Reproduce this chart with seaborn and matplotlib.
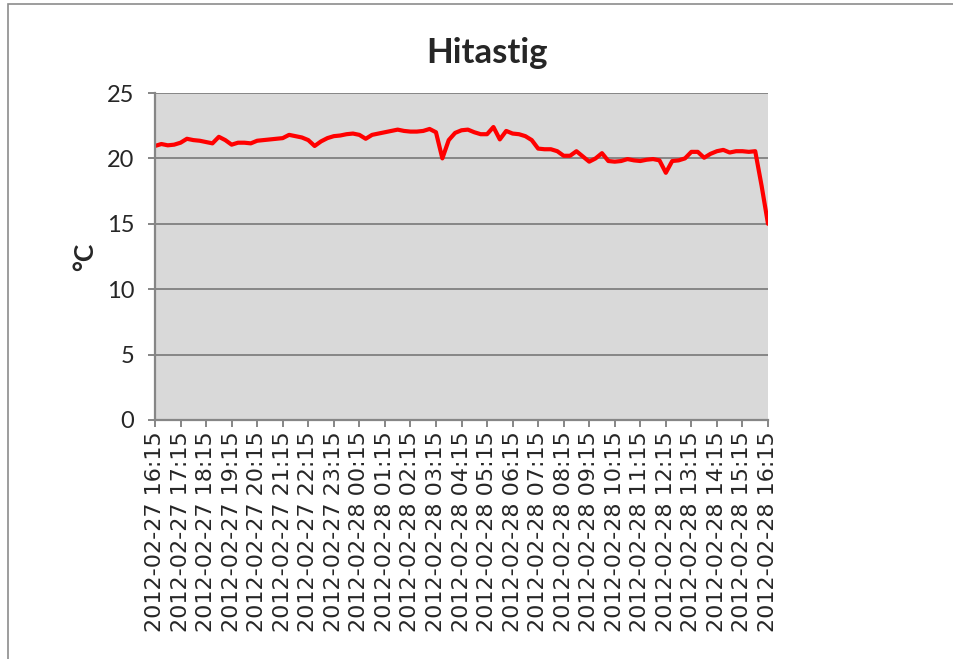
import numpy as np
import pandas as pd
import matplotlib
matplotlib.use("Agg")
import matplotlib.pyplot as plt
import seaborn as sns
from matplotlib.patches import Rectangle

title = "Hitastig"
ylabel = "°C"

hour_labels = [
    "2012-02-27 16:15", "2012-02-27 17:15", "2012-02-27 18:15", "2012-02-27 19:15",
    "2012-02-27 20:15", "2012-02-27 21:15", "2012-02-27 22:15", "2012-02-27 23:15",
    "2012-02-28 00:15", "2012-02-28 01:15", "2012-02-28 02:15", "2012-02-28 03:15",
    "2012-02-28 04:15", "2012-02-28 05:15", "2012-02-28 06:15", "2012-02-28 07:15",
    "2012-02-28 08:15", "2012-02-28 09:15", "2012-02-28 10:15", "2012-02-28 11:15",
    "2012-02-28 12:15", "2012-02-28 13:15", "2012-02-28 14:15", "2012-02-28 15:15",
    "2012-02-28 16:15",
]

# temperature readings every 15 minutes
temperature = [
    20.95, 21.1, 21.0, 21.05, 21.2, 21.5, 21.4, 21.35,
    21.25, 21.15, 21.65, 21.4, 21.05, 21.2, 21.2, 21.15,
    21.35, 21.4, 21.45, 21.5, 21.55, 21.8, 21.7, 21.6,
    21.4, 20.95, 21.3, 21.55, 21.7, 21.75, 21.85, 21.9,
    21.8, 21.5, 21.8, 21.9, 22.0, 22.1, 22.2, 22.1,
    22.05, 22.05, 22.1, 22.25, 22.0, 20.0, 21.4, 21.95,
    22.15, 22.2, 22.0, 21.85, 21.85, 22.4, 21.45, 22.1,
    21.9, 21.85, 21.7, 21.4, 20.75, 20.7, 20.7, 20.55,
    20.2, 20.2, 20.55, 20.15, 19.75, 20.0, 20.4, 19.8,
    19.75, 19.8, 19.95, 19.85, 19.8, 19.9, 19.95, 19.85,
    18.9, 19.8, 19.85, 20.0, 20.5, 20.5, 20.05, 20.35,
    20.55, 20.65, 20.45, 20.55, 20.55, 20.5, 20.55, 17.9,
    15.0,
]
y_ticks = [0, 5, 10, 15, 20, 25]

df = pd.DataFrame({"idx": np.arange(len(temperature)), "temp": temperature})

sns.set_theme(style="white")
plt.rcParams["font.family"] = ["Lato", "DejaVu Sans"]

fig = plt.figure(figsize=(9.54, 6.59), dpi=100)
fig.patches.append(Rectangle((8 / 954, -0.01), 1.1, 1.0 - 4 / 659 + 0.01,
                             transform=fig.transFigure, fill=False,
                             edgecolor="#8c8c8c", linewidth=1.2))
ax = fig.add_axes([155 / 954, 1 - 420 / 659, 613 / 954, 327 / 659])
ax.set_facecolor("#d9d9d9")

sns.lineplot(data=df, x="idx", y="temp", ax=ax, color="#ff0000", linewidth=3.0)

ax.set_xlim(0, len(temperature) - 1)
ax.set_ylim(0, 25)
ax.set_yticks(y_ticks)
ax.set_yticklabels([str(t) for t in y_ticks], fontsize=17)
ax.set_xticks(np.arange(0, len(temperature), 4))
ax.set_xticklabels(hour_labels, rotation=90, fontsize=16, family=["DejaVu Sans"])
ax.yaxis.grid(True, color="#868686", linewidth=1.4)
ax.set_axisbelow(True)
for s in ["top", "right"]:
    ax.spines[s].set_visible(False)
for s in ["left", "bottom"]:
    ax.spines[s].set_color("#868686")
    ax.spines[s].set_linewidth(1.6)
ax.tick_params(axis="both", which="both", direction="out", length=5, width=1.4,
               color="#868686", bottom=True, left=True)
ax.tick_params(axis="y", pad=10)
ax.tick_params(axis="x", pad=3)
ax.set_xlabel("")
ax.set_ylabel(ylabel, fontsize=19, fontweight="bold", labelpad=7)
fig.text(487 / 954, 1 - 53 / 659, title, ha="center", va="center",
         fontsize=25, fontweight="bold")

fig.savefig("out.png", dpi=100)
